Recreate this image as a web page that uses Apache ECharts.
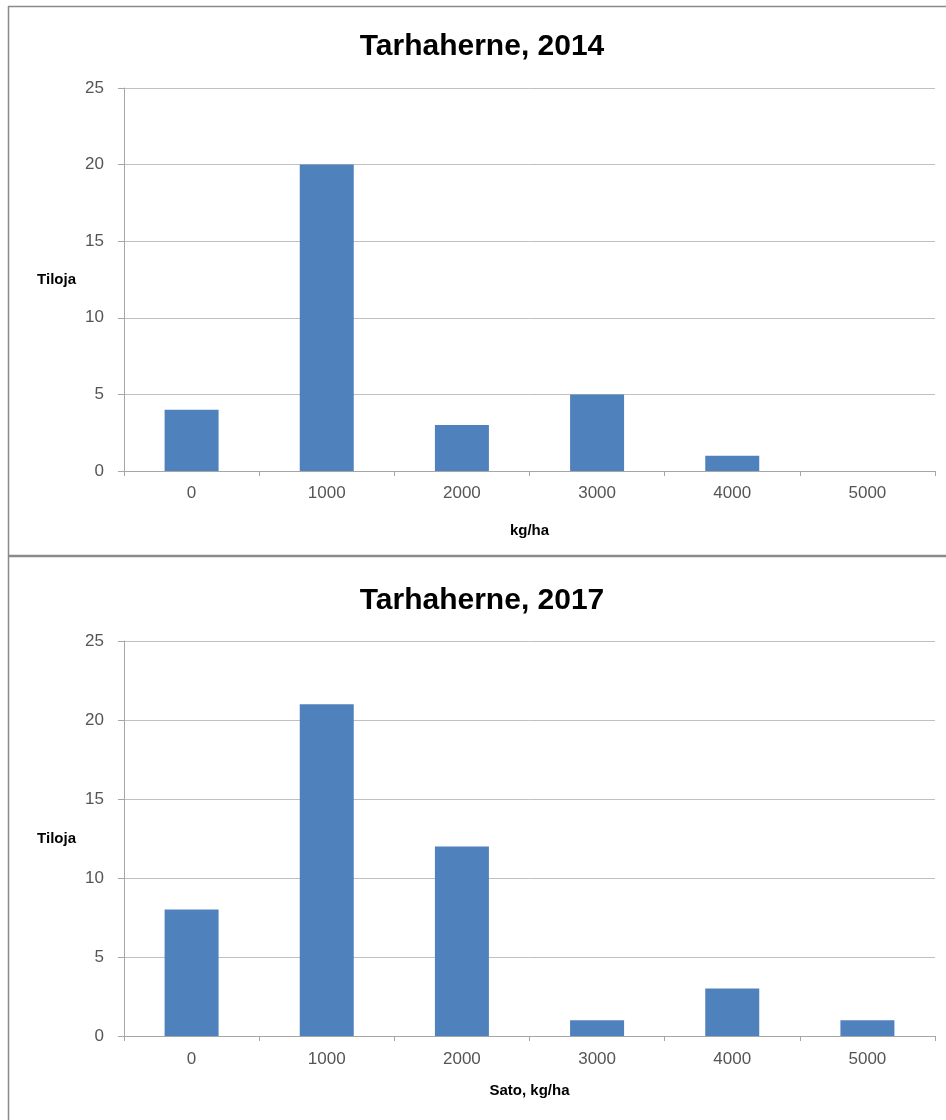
<!DOCTYPE html>
<html>
<head>
<meta charset="utf-8">
<script src="https://cdn.jsdelivr.net/npm/echarts@6/dist/echarts.min.js"></script>
<style>
  html, body { margin: 0; padding: 0; background: #fff; }
  #chart { width: 946px; height: 1120px; }
</style>
</head>
<body>
<div id="chart"></div>
<script>
// sato-luokat (kg/ha)
const categories = ['0', '1000', '2000', '3000', '4000', '5000']
// tilojen lukumäärä
const farms2014 = [4, 20, 3, 5, 1, 0]
const farms2017 = [8, 21, 12, 1, 3, 1]
const titles = ['Tarhaherne, 2014', 'Tarhaherne, 2017']
const xNames = ['kg/ha', 'Sato, kg/ha']
const yName = 'Tiloja'
const yMin = 0, yMax = 25, yStep = 5

const font = '"Liberation Sans", Arial, sans-serif'
const barColor = '#4f81bd'

const xAxisFor = (idx, nameGap, labelMargin) => ({
  type: 'category',
  gridIndex: idx,
  data: categories,
  name: xNames[idx],
  nameLocation: 'middle',
  nameGap: nameGap,
  nameTextStyle: { fontFamily: font, fontSize: 15, fontWeight: 'bold', color: '#000' },
  axisLine: { lineStyle: { color: '#a6a6a6', width: 1 } },
  axisTick: { show: true, length: 5, lineStyle: { color: '#a6a6a6' } },
  axisLabel: { fontFamily: font, fontSize: 17, color: '#555', margin: labelMargin }
})

const yAxisFor = (idx) => ({
  type: 'value',
  gridIndex: idx,
  min: yMin,
  max: yMax,
  interval: yStep,
  name: yName,
  nameLocation: 'middle',
  nameRotate: 0,
  nameGap: 48,
  nameTextStyle: { fontFamily: font, fontSize: 15, fontWeight: 'bold', color: '#000', align: 'right' },
  axisLine: { show: true, lineStyle: { color: '#a6a6a6' } },
  axisTick: { show: true, inside: false, length: 6, lineStyle: { color: '#a6a6a6' } },
  axisLabel: { fontFamily: font, fontSize: 17, color: '#555', margin: 20 },
  splitLine: { show: true, lineStyle: { color: '#c0c0c0', width: 1 } }
})

const titleStyle = { fontFamily: font, fontSize: 30, fontWeight: 'bold', color: '#000' }

const chart = echarts.init(document.getElementById('chart'))
chart.setOption({
  animation: false,
  backgroundColor: '#fff',
  title: [
    { text: titles[0], left: 477, top: 27, textAlign: 'center', textStyle: titleStyle },
    { text: titles[1], left: 477, top: 581, textAlign: 'center', textStyle: titleStyle }
  ],
  grid: [
    { left: 124, top: 88, width: 811, height: 383 },
    { left: 124, top: 641, width: 811, height: 395 }
  ],
  xAxis: [xAxisFor(0, 52, 14), xAxisFor(1, 47, 15)],
  yAxis: [yAxisFor(0), yAxisFor(1)],
  series: [
    { type: 'bar', xAxisIndex: 0, yAxisIndex: 0, data: farms2014, barWidth: 54,
      itemStyle: { color: barColor } },
    { type: 'bar', xAxisIndex: 1, yAxisIndex: 1, data: farms2017, barWidth: 54,
      itemStyle: { color: barColor } }
  ],
  graphic: [
    // kehykset
    { type: 'line', shape: { x1: 8.5, y1: 6, x2: 8.5, y2: 1120 }, style: { stroke: '#8a8a8a', lineWidth: 1.5 } },
    { type: 'line', shape: { x1: 8, y1: 6.5, x2: 946, y2: 6.5 }, style: { stroke: '#8a8a8a', lineWidth: 1.5 } },
    { type: 'line', shape: { x1: 8, y1: 556, x2: 946, y2: 556 }, style: { stroke: '#8a8a8a', lineWidth: 2.5 } }
  ]
})
</script>
</body>
</html>
